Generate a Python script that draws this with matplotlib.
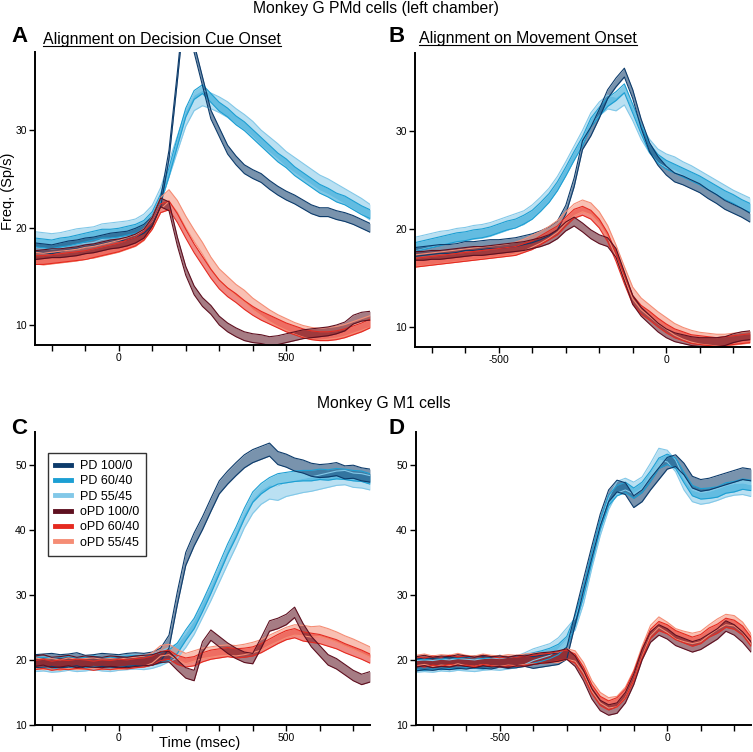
import numpy as np
import matplotlib
matplotlib.use("Agg")
import matplotlib.pyplot as plt
from matplotlib.lines import Line2D

plt.rcParams['font.family'] = ['Liberation Sans', 'DejaVu Sans']

labels = ["PD 100/0", "PD 60/40", "PD 55/45", "oPD 100/0", "oPD 60/40", "oPD 55/45"]
colors = ["#0c3b6b", "#1c9fd3", "#82c8e8", "#5e1020", "#e52a20", "#f58d75"]

# time bins (ms)
t_cue = np.arange(-250, 751, 25)
t_mov = np.arange(-750, 251, 25)

# ---- A: PMd, aligned on decision cue
A_pd100 = [18.0, 17.9, 17.8, 18.0, 18.2, 18.3, 18.5, 18.6, 18.8, 19.0, 19.1, 19.2, 19.5, 19.9, 20.7,
           22.6, 27.5, 35.5, 44.0, 38.4, 35.0, 31.6, 29.8, 28.0, 26.9, 26.0, 25.5, 25.1, 24.4, 23.8,
           23.3, 22.9, 22.4, 21.9, 21.6, 21.6, 21.3, 21.1, 20.8, 20.4, 20.0]
A_pd60 = [18.5, 18.4, 18.3, 18.5, 18.6, 18.8, 19.0, 19.2, 19.4, 19.4, 19.5, 19.7, 19.9, 20.3, 21.2,
          23.0, 25.7, 28.8, 31.8, 33.6, 34.2, 33.3, 32.4, 31.8, 31.0, 30.4, 29.6, 28.8, 28.0, 27.2,
          26.6, 25.8, 25.2, 24.6, 24.0, 23.6, 23.1, 22.8, 22.3, 21.8, 21.4]
A_pd55 = [18.8, 18.7, 18.6, 18.7, 18.9, 19.1, 19.2, 19.3, 19.6, 19.7, 19.8, 19.9, 20.1, 20.6, 21.5,
          23.3, 26.0, 28.6, 31.2, 32.8, 33.3, 33.0, 32.6, 32.1, 31.4, 30.8, 30.1, 29.2, 28.5, 27.8,
          27.0, 26.4, 25.8, 25.2, 24.6, 24.2, 23.7, 23.2, 22.7, 22.2, 21.6]
A_opd100 = [17.2, 17.3, 17.4, 17.4, 17.5, 17.6, 17.8, 17.9, 18.1, 18.3, 18.4, 18.6, 18.9, 19.4, 20.6,
            22.6, 22.2, 18.6, 15.6, 13.6, 12.4, 11.6, 10.5, 9.8, 9.3, 8.9, 8.7, 8.6, 8.4, 8.5,
            8.7, 8.9, 9.1, 9.2, 9.3, 9.4, 9.6, 9.9, 10.6, 10.9, 11.0]
A_opd60 = [16.7, 16.7, 16.8, 16.9, 17.0, 17.1, 17.2, 17.4, 17.6, 17.8, 18.0, 18.3, 18.6, 19.2, 20.3,
           22.0, 22.3, 21.0, 19.4, 17.9, 16.6, 15.3, 14.2, 13.4, 12.8, 12.1, 11.5, 11.0, 10.6, 10.2,
           9.8, 9.5, 9.2, 9.0, 8.9, 8.9, 9.0, 9.2, 9.5, 9.8, 10.2]
A_opd55 = [16.9, 16.8, 16.9, 17.0, 17.1, 17.2, 17.4, 17.5, 17.7, 17.9, 18.1, 18.4, 18.7, 19.3, 20.5,
           22.5, 23.3, 22.2, 20.6, 19.2, 17.9, 16.4, 15.2, 14.4, 13.6, 13.0, 12.2, 11.6, 11.0, 10.5,
           10.1, 9.7, 9.4, 9.2, 9.1, 9.2, 9.3, 9.5, 9.8, 10.1, 10.4]
A_sem = [0.45, 0.45, 0.8, 0.45, 0.45, 0.6]

# ---- B: PMd, aligned on movement onset
B_pd100 = [17.7, 17.8, 17.9, 18.0, 18.0, 18.1, 18.3, 18.3, 18.4, 18.5, 18.5, 18.6, 18.7, 18.9, 19.1,
           19.4, 19.8, 20.4, 22.0, 24.8, 28.6, 30.0, 31.8, 33.8, 35.0, 36.0, 33.8, 30.8, 28.4, 27.0,
           26.0, 25.3, 25.0, 24.6, 24.2, 23.6, 23.1, 22.5, 22.1, 21.7, 21.2]
B_pd60 = [18.2, 18.4, 18.6, 18.8, 19.0, 19.2, 19.3, 19.5, 19.6, 19.8, 20.1, 20.4, 20.6, 21.0, 21.5,
          22.3, 23.2, 24.4, 25.9, 27.5, 29.0, 30.9, 32.0, 33.0, 33.6, 34.4, 32.3, 30.2, 28.3, 27.2,
          26.6, 26.2, 25.8, 25.4, 25.0, 24.5, 24.0, 23.5, 23.1, 22.6, 22.2]
B_pd55 = [18.5, 18.7, 18.9, 19.1, 19.2, 19.4, 19.5, 19.7, 19.8, 20.0, 20.3, 20.6, 20.9, 21.2, 21.8,
          22.6, 23.5, 24.7, 26.2, 27.8, 29.4, 31.2, 32.3, 33.0, 32.8, 33.4, 31.8, 29.9, 28.5, 27.5,
          27.0, 26.7, 26.2, 25.8, 25.3, 24.8, 24.3, 23.8, 23.3, 22.9, 22.5]
B_opd100 = [17.3, 17.3, 17.4, 17.4, 17.5, 17.6, 17.7, 17.8, 17.8, 17.9, 18.0, 18.1, 18.2, 18.3, 18.5,
            18.7, 19.0, 19.5, 20.3, 20.8, 20.2, 19.5, 19.0, 18.7, 17.6, 15.2, 12.8, 11.6, 10.8, 10.0,
            9.4, 9.0, 8.8, 8.6, 8.5, 8.5, 8.5, 8.6, 8.9, 9.1, 9.2]
B_opd60 = [16.6, 16.7, 16.8, 16.9, 17.0, 17.1, 17.2, 17.3, 17.4, 17.5, 17.6, 17.7, 17.8, 18.1, 18.4,
           18.9, 19.4, 19.9, 20.8, 21.6, 21.9, 21.5, 20.6, 19.2, 17.2, 14.9, 12.8, 11.8, 11.2, 10.5,
           9.9, 9.4, 9.1, 8.8, 8.7, 8.6, 8.5, 8.6, 8.7, 8.8, 8.9]
B_opd55 = [16.8, 16.9, 17.0, 17.1, 17.2, 17.3, 17.4, 17.5, 17.6, 17.7, 17.8, 17.9, 18.1, 18.4, 18.8,
           19.2, 19.7, 20.3, 21.2, 22.0, 22.4, 22.1, 21.2, 19.8, 17.8, 15.6, 13.5, 12.4, 11.7, 11.0,
           10.4, 9.8, 9.4, 9.1, 8.9, 8.8, 8.7, 8.7, 8.8, 8.9, 9.0]
B_sem = [0.45, 0.45, 0.7, 0.45, 0.45, 0.6]

# ---- C: M1, aligned on decision cue
C_pd100 = [19.8, 19.9, 20.0, 19.8, 19.9, 20.1, 19.7, 19.8, 20.0, 19.9, 19.8, 20.0, 20.1, 20.0, 20.2,
           20.8, 22.8, 29.5, 35.5, 38.5, 41.0, 43.8, 46.5, 48.0, 49.3, 50.5, 51.3, 51.8, 52.3, 51.0,
           50.6, 50.0, 49.7, 49.2, 49.0, 49.1, 49.3, 48.8, 48.9, 48.5, 48.3]
C_pd60 = [19.5, 19.6, 19.4, 19.6, 19.7, 19.5, 19.6, 19.8, 19.6, 19.5, 19.7, 19.8, 19.9, 19.8, 20.0,
          20.3, 20.7, 21.8, 23.8, 25.6, 28.2, 31.0, 34.0, 37.0, 39.6, 42.5, 45.0, 46.3, 47.2, 47.8,
          48.0, 48.2, 48.3, 48.3, 48.5, 48.4, 48.6, 48.5, 48.3, 48.2, 47.8]
C_pd55 = [19.3, 19.4, 19.2, 19.3, 19.5, 19.3, 19.4, 19.6, 19.4, 19.3, 19.5, 19.6, 19.7, 19.6, 19.8,
          20.2, 20.8, 21.4, 23.0, 25.0, 27.6, 30.2, 33.0, 35.8, 38.5, 41.4, 43.6, 45.0, 45.8, 45.6,
          46.2, 46.5, 46.8, 47.0, 47.3, 47.6, 47.9, 48.0, 47.6, 47.5, 47.2]
C_opd100 = [19.8, 20.0, 19.6, 19.7, 19.9, 19.6, 19.8, 19.7, 19.6, 19.8, 19.7, 19.6, 19.8, 19.9, 20.0,
            20.4, 20.5, 19.2, 18.0, 17.6, 22.0, 23.8, 22.8, 21.8, 21.0, 20.4, 20.2, 22.6, 25.2, 25.6,
            26.2, 27.3, 24.8, 22.8, 21.4, 20.0, 19.4, 18.5, 17.6, 17.0, 17.4]
C_opd60 = [19.2, 19.4, 19.1, 19.3, 19.2, 19.4, 19.3, 19.1, 19.3, 19.2, 19.4, 19.3, 19.5, 19.6, 19.9,
           20.6, 20.8, 20.0, 19.6, 19.8, 20.4, 20.8, 21.0, 21.2, 21.0, 21.1, 21.3, 21.8, 22.5, 23.2,
           23.8, 24.1, 23.6, 23.4, 23.2, 22.8, 22.4, 21.8, 21.3, 20.8, 20.2]
C_opd55 = [19.5, 19.3, 19.4, 19.2, 19.5, 19.3, 19.4, 19.5, 19.3, 19.4, 19.3, 19.5, 19.6, 19.8, 20.3,
           21.4, 21.6, 20.8, 20.2, 20.6, 21.0, 21.2, 21.4, 21.5, 21.4, 21.6, 21.9, 22.3, 23.0, 23.6,
           24.2, 24.6, 24.5, 24.3, 24.4, 24.0, 23.5, 22.9, 22.4, 21.8, 21.2]
C_sem = [1.0, 0.8, 1.1, 0.8, 0.7, 0.8]

# ---- D: M1, aligned on movement onset
D_pd100 = [19.2, 19.4, 19.3, 19.5, 19.4, 19.6, 19.5, 19.7, 19.6, 19.5, 19.8, 19.6, 19.7, 19.9, 19.6,
           19.8, 20.0, 20.2, 21.0, 26.3, 31.5, 36.6, 41.5, 45.2, 46.7, 46.3, 44.3, 45.2, 47.0, 48.6,
           50.2, 50.6, 49.3, 47.3, 46.8, 47.0, 47.4, 47.8, 48.2, 48.6, 48.4]
D_pd60 = [19.3, 19.2, 19.4, 19.3, 19.5, 19.4, 19.6, 19.5, 19.4, 19.6, 19.7, 19.6, 19.8, 20.0, 20.3,
          20.6, 21.0, 21.6, 22.8, 26.0, 30.5, 35.8, 40.8, 44.5, 46.0, 46.5, 45.6, 46.5, 48.2, 50.2,
          50.8, 50.2, 48.0, 46.0, 45.5, 45.6, 45.8, 46.4, 46.6, 47.0, 46.8]
D_pd55 = [19.0, 19.1, 19.0, 19.2, 19.1, 19.3, 19.2, 19.1, 19.3, 19.4, 19.3, 19.5, 19.7, 20.2, 20.8,
          21.2, 21.6, 22.5, 24.0, 25.5, 29.5, 35.0, 40.0, 44.0, 46.5, 47.0, 46.4, 47.2, 49.3, 51.6,
          51.3, 49.8, 47.0, 45.2, 44.8, 45.0, 45.4, 45.9, 46.2, 46.3, 46.0]
D_opd100 = [19.7, 19.9, 19.6, 19.8, 19.7, 20.0, 19.8, 19.6, 19.9, 19.7, 19.8, 19.6, 19.9, 19.8, 20.1,
            20.3, 20.4, 20.6, 20.9, 19.8, 17.6, 14.8, 13.0, 12.3, 12.6, 14.2, 17.0, 20.8, 23.5, 24.6,
            24.0, 23.0, 22.5, 22.0, 22.4, 23.2, 24.0, 25.2, 24.6, 23.5, 22.0]
D_opd60 = [19.8, 19.6, 19.9, 19.7, 20.0, 19.8, 19.9, 19.7, 20.0, 19.8, 19.6, 19.8, 19.7, 19.9, 20.0,
           20.2, 20.3, 20.6, 20.8, 20.2, 18.2, 15.5, 13.7, 13.0, 13.5, 14.8, 17.5, 21.0, 24.0, 25.2,
           24.7, 23.8, 23.3, 22.8, 23.2, 24.2, 24.8, 25.7, 25.4, 24.5, 22.8]
D_opd55 = [19.9, 20.1, 19.8, 20.0, 19.9, 20.2, 19.9, 19.8, 20.1, 19.9, 19.8, 20.0, 19.9, 20.1, 20.2,
           20.3, 20.4, 20.4, 20.9, 20.6, 18.8, 16.0, 14.2, 13.4, 13.6, 15.0, 17.6, 21.3, 24.5, 25.8,
           25.0, 24.0, 23.6, 23.3, 23.6, 24.6, 25.5, 26.2, 26.0, 25.0, 23.2]
D_sem = [0.9, 0.8, 0.9, 0.8, 0.7, 0.8]

W, H = 753, 752
fig = plt.figure(figsize=(W / 100, H / 100), dpi=100)


def px_rect(x0, y_top, x1, y_bot):
    return [x0 / W, 1 - y_bot / H, (x1 - x0) / W, (y_bot - y_top) / H]


def draw_panel(rect, t, traces, sems, xlim, ylim, xlabeled, yticks):
    ax = fig.add_axes(rect)
    for i in [2, 1, 0, 5, 4, 3]:
        y = np.array(traces[i])
        s = sems[i]
        ax.fill_between(t, y - s, y + s, color=colors[i], alpha=0.55, lw=0)
        ax.plot(t, y + s, color=colors[i], lw=0.8)
        ax.plot(t, y - s, color=colors[i], lw=0.8)
    ax.set_xlim(xlim)
    ax.set_ylim(ylim)
    ticks = list(range(xlim[0] + 50, xlim[1], 100))
    ax.set_xticks(ticks)
    ax.set_xticklabels([str(v) if v in xlabeled else "" for v in ticks])
    ax.set_yticks(yticks)
    for sp in ["top", "right"]:
        ax.spines[sp].set_visible(False)
    for sp in ["left", "bottom"]:
        ax.spines[sp].set_linewidth(1.4)
    ax.tick_params(direction="out", length=4, width=1, labelsize=7.5, pad=2)
    return ax


axA = draw_panel(px_rect(35, 52, 370, 345), t_cue,
                 [A_pd100, A_pd60, A_pd55, A_opd100, A_opd60, A_opd55], A_sem,
                 (-250, 750), (8, 38), (0, 500), [10, 20, 30])
axB = draw_panel(px_rect(415, 53, 750, 347), t_mov,
                 [B_pd100, B_pd60, B_pd55, B_opd100, B_opd60, B_opd55], B_sem,
                 (-750, 250), (8, 38), (-500, 0), [10, 20, 30])
axC = draw_panel(px_rect(35, 432, 370, 725), t_cue,
                 [C_pd100, C_pd60, C_pd55, C_opd100, C_opd60, C_opd55], C_sem,
                 (-250, 750), (10, 55), (0, 500), [10, 20, 30, 40, 50])
axD = draw_panel(px_rect(416, 432, 751, 725), t_mov,
                 [D_pd100, D_pd60, D_pd55, D_opd100, D_opd60, D_opd55], D_sem,
                 (-750, 250), (10, 55), (-500, 0), [10, 20, 30, 40, 50])

handles = [Line2D([], [], color=c, lw=3.5) for c in colors]
leg = axC.legend(handles, labels, loc="upper left", bbox_to_anchor=(0.039, 0.928),
                 borderaxespad=0, fontsize=9, frameon=True, fancybox=False,
                 handlelength=1.3, labelspacing=0.27, borderpad=0.55, handletextpad=0.7)
leg.get_frame().set_edgecolor("black")
leg.get_frame().set_linewidth(1.0)


def ftext(x, y, s, **kw):
    return fig.text(x / W, 1 - y / H, s, **kw)


ftext(376, 8, "Monkey G PMd cells (left chamber)", ha="center", va="center", fontsize=11.3)
ftext(384, 403, "Monkey G M1 cells", ha="center", va="center", fontsize=11.3)
for lab, x, y in [("A", 20, 37), ("B", 397, 37), ("C", 19, 428), ("D", 396, 428)]:
    ftext(x, y, lab, ha="center", va="center", fontsize=16, fontweight="bold")

for s, x0, yb in [("Alignment on Decision Cue Onset", 43, 44),
                  ("Alignment on Movement Onset", 419, 43)]:
    txt = ftext(x0, yb, s, ha="left", va="baseline", fontsize=11.4)
    fig.canvas.draw()
    bb = txt.get_window_extent(fig.canvas.get_renderer())
    yl = 1 - (yb + 2) / H
    fig.add_artist(Line2D([bb.x0 / W, bb.x1 / W], [yl, yl], color="black", lw=0.8))

ftext(8, 191, "Freq. (Sp/s)", ha="center", va="center", rotation=90, fontsize=10.5)
ftext(200, 743, "Time (msec)", ha="center", va="center", fontsize=10.5)

fig.savefig("out.png", dpi=100)
